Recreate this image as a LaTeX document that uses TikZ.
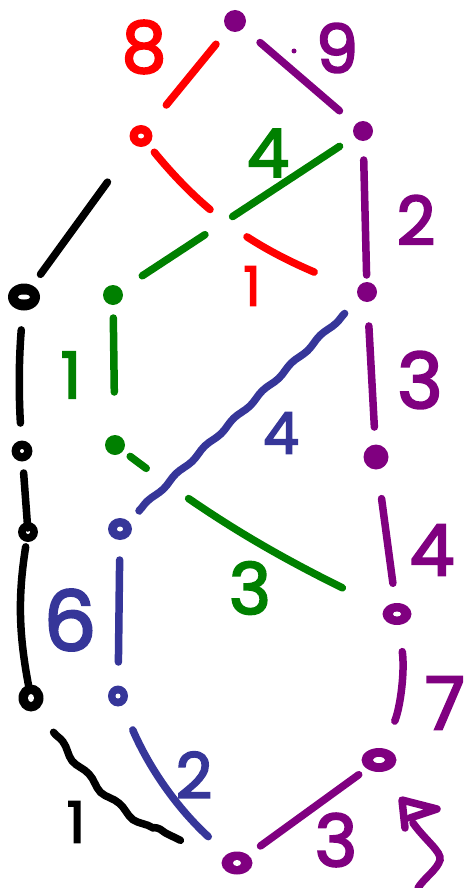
\documentclass[tikz,border=0pt]{standalone}
\usepackage{fontspec}
\setmainfont{Poppins}
\newfontfamily\hwfam[FakeBold=3]{Poppins}
\usetikzlibrary{calc,shapes.geometric,decorations.pathmorphing}
\definecolor{hred}{RGB}{255,0,0}
\definecolor{hpurple}{RGB}{128,0,128}
\definecolor{hgreen}{RGB}{0,128,0}
\definecolor{hblue}{RGB}{54,54,153}
\newcommand\hwfont[1]{\hwfam\fontsize{#1}{#1}\selectfont}
\begin{document}
\begin{tikzpicture}[x=1pt,y=1pt,
  dotf/.style={circle,fill,inner sep=0pt,minimum size=#1},
  ringd/.style={ellipse,fill,inner sep=0pt},
  edge/.style={line width=7.5pt,line cap=round},
  lab/.style={inner sep=0pt,font=\hwfont{#1}},
]
\useasboundingbox (0,0) rectangle (469,-888);

% vertices
\node[dotf=22pt,hpurple] (T) at (235,-21) {};
\node[ringd,hred,minimum width=23pt,minimum height=22pt] (R1) at (141,-136) {};
\node[dotf=20pt,hpurple] (P1) at (363,-131) {};
\node[ringd,black,minimum width=32pt,minimum height=27pt] (B1) at (24,-297) {};
\node[dotf=20pt,hgreen] (G1) at (113,-295) {};
\node[dotf=20pt,hpurple] (P2) at (367,-292) {};
\node[dotf=21pt,black] (B2) at (22,-451) {};
\node[dotf=20pt,hgreen] (G2) at (115,-445) {};
\node[dotf=25pt,hpurple] (P3) at (376,-457) {};
\node[dotf=20pt,black] (B3) at (28,-532) {};
\node[ringd,hblue,minimum width=24pt,minimum height=22pt] (BL1) at (120,-529) {};
\node[ringd,hpurple,minimum width=29pt,minimum height=22pt] (P4) at (397,-614) {};
\node[ringd,black,minimum width=25pt,minimum height=27pt] (B4) at (31,-698) {};
\node[ringd,hblue,minimum width=20pt,minimum height=21pt] (BL2) at (118,-696) {};
\node[ringd,hpurple,minimum width=35pt,minimum height=24pt] (P5) at (379,-760) {};
\node[ringd,hpurple,minimum width=31pt,minimum height=23pt] (P6) at (237,-863) {};
% small holes of the ring-like dots
\foreach \n/\a/\b in {R1/3/2.5,B1/6/2.5,B2/2/2,B3/2/2,BL1/3/2.5,P4/4/2.5,B4/3/4,BL2/2.5/2.5,P5/6/3,P6/4/3}
  \fill[white] (\n.center) ellipse ({\a pt} and {\b pt});

% edges
\draw[edge,hred,shorten <=30pt,shorten >=40pt] (T.center) -- (R1.center);
\draw[edge,hpurple,shorten <=33pt,shorten >=31pt] (T.center) -- (P1.center);
\draw[edge,hred,shorten <=21pt,dash pattern=on 80pt off 46pt on 76pt off 600pt] (R1.center) to[bend right=16] (P2.center);
\draw[edge,hgreen,shorten <=28pt,dash pattern=on 128pt off 33pt on 75pt off 600pt] (P1.center) to (G1.center);
\draw[edge,hpurple,shorten <=29pt,shorten >=17pt] (P1.center) -- (P2.center);
\draw[edge,black,shorten <=57pt,shorten >=28pt] (R1.center) -- (B1.center);
\draw[edge,black,shorten <=33pt,shorten >=28pt] (B1.center) to[bend right=4] (B2.center);
\draw[edge,hgreen,shorten <=23pt,shorten >=53pt] (G1.center) -- (G2.center);
\draw[edge,hpurple,shorten <=34pt,shorten >=30pt] (P2.center) -- (P3.center);
\draw[edge,hblue,decorate,decoration={snake,amplitude=1.2pt,segment length=40pt,pre=moveto,pre length=31pt,post=moveto,post length=21pt}] (P2.center) -- (BL1.center);
\draw[edge,hgreen,shorten <=19pt,dash pattern=on 20pt off 52pt on 178pt off 600pt] (G2.center) to[bend right=6] (P4.center);
\draw[edge,hpurple,shorten <=42pt,shorten >=31pt] (P3.center) -- (P4.center);
\draw[edge,black,shorten <=22pt,shorten >=4pt] (B2.center) -- (B3.center);
\draw[edge,black,shorten <=15pt,shorten >=10pt] (B3.center) to[bend right=10] (B4.center);
\draw[edge,hblue,shorten <=31pt,shorten >=34pt] (BL1.center) -- (BL2.center);
\draw[edge,black,decorate,decoration={snake,amplitude=2.2pt,segment length=42pt,pre=moveto,pre length=41pt,post=moveto,post length=61pt}] (B4.center) to[bend right=20] (P6.center);
\draw[edge,hblue,shorten <=37pt,shorten >=39pt] (BL2.center) to[bend right=12] (P6.center);
\draw[edge,hpurple,shorten <=25pt,shorten >=29pt] (P5.center) -- (P6.center);
\draw[edge,hpurple,shorten <=38pt,shorten >=42pt] (P4.center) to[bend left=15] (P5.center);

% arrow mark near the bottom right vertex
\draw[edge,hpurple,line join=round] (405,-828) -- (402,-800) -- (437,-809) -- (410,-818);
\draw[edge,hpurple] (413,-823) .. controls (425,-840) and (442,-852) .. (440,-860)
  .. controls (437,-870) and (424,-878) .. (418,-888);
\fill[hpurple] (294,-51) circle (2.5pt);

% labels
\node[lab=71pt,hred] (l8) at (144,-47) {8};
\node[lab=67pt,hpurple] (l9) at (337,-48) {9};
\node[lab=67pt,hgreen] (l4g) at (268,-153) {4};
\node[lab=54pt,hred] (l1r) at (252,-286) {1};
\node[lab=67pt,hpurple] (l2p) at (416,-220) {2};
\node[lab=64pt,hgreen] (l1g) at (71,-375) {1};
\node[lab=77pt,hpurple] (l3p) at (420,-380) {3};
\node[lab=57pt,hblue] (l4b) at (281,-433) {4};
\node[lab=71pt,hpurple] (l4p) at (432,-550) {4};
\node[lab=71pt,hgreen] (l3g) at (250,-588) {3};
\node[lab=83pt,hblue] (l6) at (70,-620) {6};
\node[lab=73pt,hpurple] (l7) at (445,-703) {7};
\node[lab=63pt,hblue] (l2b) at (194,-775) {2};
\node[lab=57pt,black] (l1k) at (76,-822) {1};
\node[lab=72pt,hpurple] (l3b) at (336,-840) {3};
\end{tikzpicture}
\end{document}
